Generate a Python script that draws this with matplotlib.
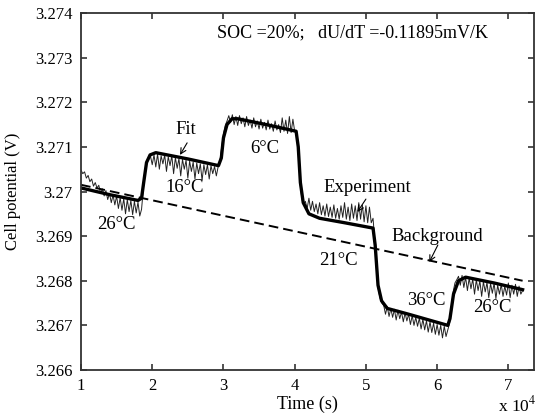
import numpy as np
import matplotlib
matplotlib.use("Agg")
import matplotlib.pyplot as plt

plt.rcParams['font.family'] = ['Liberation Serif', 'DejaVu Serif']
plt.rcParams['mathtext.fontset'] = 'stix'

# Time axis in units of 1e4 s
exp_time = np.round(np.linspace(1.0, 7.2, 249), 3)

exp_volt = [
    # 26 C start, 1.000 - 1.850
    3.27048, 3.27040, 3.27044, 3.27030, 3.27036, 3.27022, 3.27028, 3.27012, 3.27020, 3.27008,
    3.27014, 3.26996, 3.27006, 3.26990, 3.27002, 3.26982, 3.26996, 3.26975, 3.26992, 3.26970,
    3.26990, 3.26962, 3.26986, 3.26958, 3.26984, 3.26950, 3.26982, 3.26955, 3.26980, 3.26948,
    3.26978, 3.26952, 3.26976, 3.26945, 3.26960,
    # step to 16 C
    3.27005, 3.27050, 3.27068, 3.27075,
    # 16 C, 1.975 - 2.925
    3.27080, 3.27060, 3.27082, 3.27055, 3.27084, 3.27050, 3.27080, 3.27062, 3.27082, 3.27045,
    3.27078, 3.27058, 3.27080, 3.27040, 3.27076, 3.27052, 3.27074, 3.27035, 3.27072, 3.27050,
    3.27070, 3.27030, 3.27068, 3.27045, 3.27066, 3.27028, 3.27064, 3.27040, 3.27062, 3.27025,
    3.27060, 3.27038, 3.27060, 3.27028, 3.27058, 3.27040, 3.27056, 3.27035, 3.27055,
    # step to 6 C
    3.27068, 3.27100, 3.27130, 3.27148, 3.27158,
    # 6 C, 3.075 - 4.025
    3.27170, 3.27155, 3.27172, 3.27150, 3.27168, 3.27148, 3.27170, 3.27152, 3.27165, 3.27145,
    3.27168, 3.27148, 3.27160, 3.27142, 3.27165, 3.27145, 3.27158, 3.27140, 3.27162, 3.27142,
    3.27155, 3.27138, 3.27160, 3.27140, 3.27152, 3.27135, 3.27158, 3.27138, 3.27150, 3.27132,
    3.27165, 3.27135, 3.27160, 3.27130, 3.27168, 3.27132, 3.27162, 3.27135, 3.27130,
    # step to 21 C
    3.27095, 3.27020, 3.26985, 3.26970,
    # 21 C, 4.150 - 5.100
    3.26978, 3.26962, 3.26985, 3.26958, 3.26978, 3.26955, 3.26972, 3.26950, 3.26975, 3.26948,
    3.26968, 3.26945, 3.26972, 3.26944, 3.26965, 3.26942, 3.26970, 3.26940, 3.26962, 3.26938,
    3.26968, 3.26942, 3.26975, 3.26938, 3.26965, 3.26935, 3.26972, 3.26940, 3.26968, 3.26935,
    3.26975, 3.26938, 3.26970, 3.26932, 3.26968, 3.26930, 3.26965, 3.26930, 3.26940,
    # step to 36 C
    3.26890, 3.26820, 3.26780, 3.26760, 3.26750,
    # 36 C, 5.250 - 6.150
    3.26745, 3.26725, 3.26742, 3.26720, 3.26738, 3.26718, 3.26736, 3.26712, 3.26734, 3.26715,
    3.26730, 3.26708, 3.26728, 3.26710, 3.26725, 3.26702, 3.26722, 3.26700, 3.26718, 3.26698,
    3.26716, 3.26692, 3.26714, 3.26690, 3.26710, 3.26685, 3.26708, 3.26684, 3.26705, 3.26680,
    3.26702, 3.26678, 3.26700, 3.26672, 3.26698, 3.26675, 3.26690,
    # step to 26 C
    3.26705, 3.26740, 3.26775, 3.26795, 3.26802,
    # 26 C, 6.300 - 7.200
    3.26810, 3.26790, 3.26812, 3.26785, 3.26808, 3.26778, 3.26806, 3.26782, 3.26804, 3.26770,
    3.26802, 3.26778, 3.26800, 3.26765, 3.26798, 3.26775, 3.26796, 3.26762, 3.26794, 3.26772,
    3.26795, 3.26760, 3.26790, 3.26770, 3.26792, 3.26765, 3.26788, 3.26768, 3.26795, 3.26762,
    3.26790, 3.26770, 3.26792, 3.26765, 3.26788, 3.26770, 3.26778,
]
assert len(exp_volt) == len(exp_time)

fit_time = [1.00, 1.40, 1.80, 1.85, 1.88, 1.92, 1.97, 2.05, 2.50, 2.93, 2.97, 3.00, 3.05,
            3.12, 3.20, 3.60, 4.02, 4.05, 4.08, 4.12, 4.20, 4.35, 4.70, 5.10, 5.13, 5.17,
            5.22, 5.30, 5.60, 6.15, 6.18, 6.23, 6.30, 6.40, 6.80, 7.20]
fit_volt = [3.27008, 3.26993, 3.26980, 3.26985, 3.27020, 3.27065, 3.27082, 3.27087, 3.27073,
            3.27058, 3.27075, 3.27120, 3.27150, 3.27163, 3.27163, 3.27150, 3.27135, 3.27100,
            3.27020, 3.26975, 3.26950, 3.26940, 3.26930, 3.26918, 3.26880, 3.26790, 3.26755,
            3.26738, 3.26725, 3.26700, 3.26715, 3.26770, 3.26800, 3.26808, 3.26795, 3.26780]

# Linear background
bg_time = [1.0, 7.2]
bg_volt = [3.27015, 3.26800]

yticks = [3.266, 3.267, 3.268, 3.269, 3.270, 3.271, 3.272, 3.273, 3.274]
ytick_labels = ['3.266', '3.267', '3.268', '3.269', '3.27', '3.271', '3.272', '3.273', '3.274']
xticks = [1, 2, 3, 4, 5, 6, 7]

fig = plt.figure(figsize=(5.35, 4.16), dpi=100)
ax = fig.add_axes([81 / 535, 1 - 370 / 416, (534 - 81) / 535, (370 - 13) / 416])

ax.plot(exp_time, exp_volt, color='#222222', lw=0.7)
ax.plot(fit_time, fit_volt, color='black', lw=2.4, solid_joinstyle='round')
ax.plot(bg_time, bg_volt, color='black', lw=1.4, dashes=(5, 2.6))

ax.set_xlim(1, 7.36)
ax.set_ylim(3.266, 3.274)
ax.set_xticks(xticks)
ax.set_xticklabels([str(t) for t in xticks])
ax.set_yticks(yticks)
ax.set_yticklabels(ytick_labels)
ax.tick_params(direction='in', top=True, right=True, length=4, width=1.2,
               labelsize=12, color='#333333')
ax.tick_params(axis='x', pad=6)
ax.tick_params(axis='y', pad=6)
for s in ax.spines.values():
    s.set_linewidth(1.3)
    s.set_color('#333333')

ax.set_xlabel('Time (s)', fontsize=13, labelpad=1)
ax.set_ylabel('Cell potential (V)', fontsize=12, labelpad=10)
fig.text(498 / 535, 1 - 405 / 416, r'x 10$^4$', fontsize=12.5, ha='left', va='center')

ax.text(2.91, 3.27355, 'SOC =20%;   dU/dT =-0.11895mV/K', fontsize=13, ha='left', va='center')

label_kw = dict(fontsize=13.5, ha='center', va='center')
ax.text(1.49, 3.26925, '26°C', **label_kw)
ax.text(2.46, 3.27008, '16°C', **label_kw)
ax.text(3.58, 3.27097, '6°C', **label_kw)
ax.text(4.62, 3.26846, '21°C', **label_kw)
ax.text(5.85, 3.26756, '36°C', **label_kw)
ax.text(6.77, 3.26741, '26°C', **label_kw)

arrow = dict(arrowstyle='->', lw=0.8, color='black', shrinkA=0, shrinkB=0)
ax.text(2.475, 3.27138, 'Fit', **label_kw)
ax.annotate('', xy=(2.39, 3.27082), xytext=(2.49, 3.27109), arrowprops=arrow)
ax.text(5.02, 3.27010, 'Experiment', **label_kw)
ax.annotate('', xy=(4.88, 3.26954), xytext=(5.00, 3.26983), arrowprops=arrow)
ax.text(6.00, 3.26900, 'Background', **label_kw)
ax.annotate('', xy=(5.89, 3.26842), xytext=(6.01, 3.26880), arrowprops=arrow)

fig.savefig('out.png', dpi=100)
